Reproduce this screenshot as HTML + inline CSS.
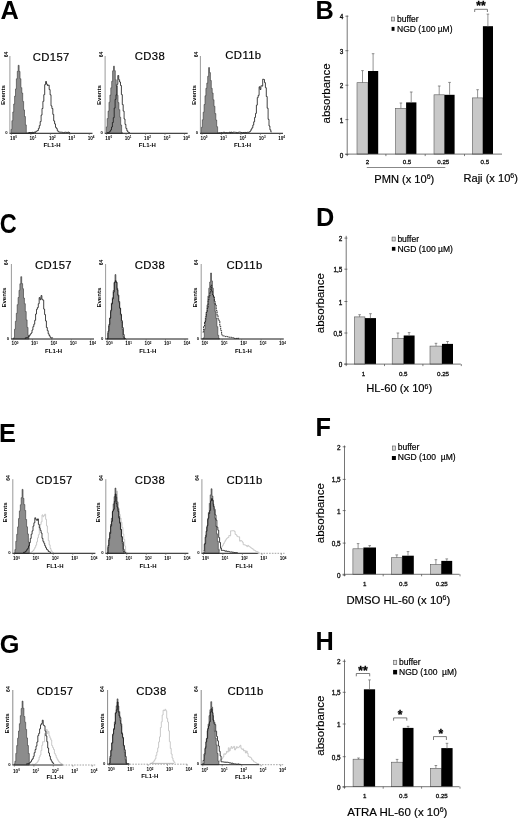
<!DOCTYPE html>
<html><head><meta charset="utf-8"><title>Figure</title>
<style>
html,body{margin:0;padding:0;background:#fff;}
body{width:520px;height:820px;overflow:hidden;font-family:"Liberation Sans",sans-serif;}
svg{display:block;}
</style></head><body>
<svg width="520" height="820" viewBox="0 0 520 820">
<defs><filter id="soft" x="0" y="0" width="100%" height="100%" filterUnits="userSpaceOnUse"><feGaussianBlur stdDeviation="0.38"/></filter></defs>
<rect width="520" height="820" fill="#ffffff"/>
<g filter="url(#soft)">
<path d="M11.0 129.4 H11.9 V120.7 H12.8 V112.0 H13.7 V104.0 H14.6 V96.1 H15.5 V88.9 H16.4 V78.8 H17.3 V71.3 H18.2 V65.3 H19.1 V71.4 H20.0 V78.8 H20.9 V87.7 H21.8 V93.0 H22.7 V101.4 H23.6 V109.9 H24.5 V116.5 H25.4 V124.9 H26.3 V133.0 H27.2 V132.9 H28.1 V133.0 H29.0 V132.5 H29.9 V133.0 H30.8 V133.0 H31.7 V133.0 H32.6 V133.0 H33.5 V133.0 V133.3 H11.0 Z" fill="#8c8c8c" stroke="#333" stroke-width="0.6" stroke-linejoin="round"/>
<path d="M28.5 132.5 H29.4 V132.6 H30.3 V132.5 H31.2 V132.5 H32.1 V132.3 H33.0 V132.7 H33.9 V132.1 H34.8 V132.6 H35.7 V131.4 H36.6 V131.0 H37.5 V130.5 H38.4 V128.4 H39.3 V125.6 H40.2 V121.6 H41.1 V115.1 H42.0 V108.5 H42.9 V101.3 H43.8 V94.7 H44.7 V84.6 H45.6 V81.5 H46.5 V84.1 H47.4 V85.5 H48.3 V85.1 H49.2 V89.6 H50.1 V94.8 H51.0 V105.9 H51.9 V108.5 H52.8 V114.4 H53.7 V120.9 H54.6 V123.9 H55.5 V127.4 H56.4 V128.6 H57.3 V130.8 H58.2 V131.8 H59.1 V132.1 H60.0 V132.2 H60.9 V132.2 H61.8 V132.3 H62.7 V132.6 H63.6 V132.7 H64.5 V132.3 H65.4 V132.2 H66.3 V132.6 H67.2 V132.4 H68.1 V132.1 H69.0 V132.7 H69.9 V133.0" fill="none" stroke="#151515" stroke-width="0.8" stroke-linejoin="round"/>
<line x1="9.9" y1="56" x2="9.9" y2="133.3" stroke="#808080" stroke-width="0.8"/>
<line x1="9.5" y1="133.3" x2="92.5" y2="133.3" stroke="#1c1c1c" stroke-width="1.0"/>
<line x1="11.5" y1="133.3" x2="11.5" y2="134.9" stroke="#555" stroke-width="0.6"/>
<text x="13.5" y="140.1" font-family="Liberation Sans, sans-serif" font-size="4.6" font-weight="bold" fill="#000" text-anchor="middle">10<tspan dy="-1.7" font-size="3">0</tspan></text>
<line x1="30.9" y1="133.3" x2="30.9" y2="134.9" stroke="#555" stroke-width="0.6"/>
<text x="32.9" y="140.1" font-family="Liberation Sans, sans-serif" font-size="4.6" font-weight="bold" fill="#000" text-anchor="middle">10<tspan dy="-1.7" font-size="3">1</tspan></text>
<line x1="50.4" y1="133.3" x2="50.4" y2="134.9" stroke="#555" stroke-width="0.6"/>
<text x="52.3" y="140.1" font-family="Liberation Sans, sans-serif" font-size="4.6" font-weight="bold" fill="#000" text-anchor="middle">10<tspan dy="-1.7" font-size="3">2</tspan></text>
<line x1="69.8" y1="133.3" x2="69.8" y2="134.9" stroke="#555" stroke-width="0.6"/>
<text x="71.7" y="140.1" font-family="Liberation Sans, sans-serif" font-size="4.6" font-weight="bold" fill="#000" text-anchor="middle">10<tspan dy="-1.7" font-size="3">3</tspan></text>
<line x1="89.3" y1="133.3" x2="89.3" y2="134.9" stroke="#555" stroke-width="0.6"/>
<text x="91.1" y="140.1" font-family="Liberation Sans, sans-serif" font-size="4.6" font-weight="bold" fill="#000" text-anchor="middle">10<tspan dy="-1.7" font-size="3">4</tspan></text>
<text x="52.1" y="146.9" font-family="Liberation Sans, sans-serif" font-size="6.0" font-weight="bold" fill="#000" text-anchor="middle">FL1-H</text>
<text transform="translate(4.8 95.0) rotate(-90)" font-family="Liberation Sans, sans-serif" font-size="6.1" font-weight="bold" fill="#000" text-anchor="middle">Events</text>
<text transform="translate(7.7 54.4) rotate(-90)" font-family="Liberation Sans, sans-serif" font-size="5" font-weight="bold" fill="#000" text-anchor="middle">64</text>
<text x="7.7" y="133.9" font-family="Liberation Sans, sans-serif" font-size="4.2" font-weight="bold" fill="#000" text-anchor="end">0</text>
<text x="51.2" y="60.5" font-family="Liberation Sans, sans-serif" font-size="11.3" fill="#000" stroke="#000" stroke-width="0.18" letter-spacing="0.35" text-anchor="middle">CD157</text>
<path d="M106.3 126.9 H107.2 V118.6 H108.1 V111.1 H109.0 V102.2 H109.9 V95.1 H110.8 V87.8 H111.7 V81.3 H112.6 V70.8 H113.5 V66.2 H114.4 V70.7 H115.3 V79.7 H116.2 V86.0 H117.1 V95.2 H118.0 V102.6 H118.9 V109.7 H119.8 V117.2 H120.7 V125.0 H121.6 V132.8 H122.5 V132.7 V133.3 H106.3 Z" fill="#8c8c8c" stroke="#333" stroke-width="0.6" stroke-linejoin="round"/>
<path d="M107.0 132.6 H107.9 V132.7 H108.8 V132.2 H109.7 V131.3 H110.6 V129.9 H111.5 V127.0 H112.4 V122.5 H113.3 V117.7 H114.2 V108.1 H115.1 V99.4 H116.0 V94.8 H116.9 V84.3 H117.8 V75.5 H118.7 V79.7 H119.6 V82.0 H120.5 V85.5 H121.4 V94.6 H122.3 V104.6 H123.2 V111.1 H124.1 V119.0 H125.0 V124.4 H125.9 V128.4 H126.8 V130.7 H127.7 V132.0 H128.6 V132.5 H129.5 V133.0" fill="none" stroke="#151515" stroke-width="0.8" stroke-linejoin="round"/>
<line x1="105.1" y1="56" x2="105.1" y2="133.3" stroke="#808080" stroke-width="0.8"/>
<line x1="104.69999999999999" y1="133.3" x2="187.7" y2="133.3" stroke="#1c1c1c" stroke-width="1.0"/>
<line x1="106.7" y1="133.3" x2="106.7" y2="134.9" stroke="#555" stroke-width="0.6"/>
<text x="108.7" y="140.1" font-family="Liberation Sans, sans-serif" font-size="4.6" font-weight="bold" fill="#000" text-anchor="middle">10<tspan dy="-1.7" font-size="3">0</tspan></text>
<line x1="126.1" y1="133.3" x2="126.1" y2="134.9" stroke="#555" stroke-width="0.6"/>
<text x="128.1" y="140.1" font-family="Liberation Sans, sans-serif" font-size="4.6" font-weight="bold" fill="#000" text-anchor="middle">10<tspan dy="-1.7" font-size="3">1</tspan></text>
<line x1="145.6" y1="133.3" x2="145.6" y2="134.9" stroke="#555" stroke-width="0.6"/>
<text x="147.5" y="140.1" font-family="Liberation Sans, sans-serif" font-size="4.6" font-weight="bold" fill="#000" text-anchor="middle">10<tspan dy="-1.7" font-size="3">2</tspan></text>
<line x1="165.0" y1="133.3" x2="165.0" y2="134.9" stroke="#555" stroke-width="0.6"/>
<text x="166.9" y="140.1" font-family="Liberation Sans, sans-serif" font-size="4.6" font-weight="bold" fill="#000" text-anchor="middle">10<tspan dy="-1.7" font-size="3">3</tspan></text>
<line x1="184.5" y1="133.3" x2="184.5" y2="134.9" stroke="#555" stroke-width="0.6"/>
<text x="186.3" y="140.1" font-family="Liberation Sans, sans-serif" font-size="4.6" font-weight="bold" fill="#000" text-anchor="middle">10<tspan dy="-1.7" font-size="3">4</tspan></text>
<text x="147.3" y="146.9" font-family="Liberation Sans, sans-serif" font-size="6.0" font-weight="bold" fill="#000" text-anchor="middle">FL1-H</text>
<text transform="translate(101.0 95.0) rotate(-90)" font-family="Liberation Sans, sans-serif" font-size="6.1" font-weight="bold" fill="#000" text-anchor="middle">Events</text>
<text transform="translate(102.9 54.4) rotate(-90)" font-family="Liberation Sans, sans-serif" font-size="5" font-weight="bold" fill="#000" text-anchor="middle">64</text>
<text x="102.9" y="133.9" font-family="Liberation Sans, sans-serif" font-size="4.2" font-weight="bold" fill="#000" text-anchor="end">0</text>
<text x="150.0" y="59.8" font-family="Liberation Sans, sans-serif" font-size="11.3" fill="#000" stroke="#000" stroke-width="0.18" letter-spacing="0.35" text-anchor="middle">CD38</text>
<path d="M201.4 127.3 H202.3 V119.8 H203.2 V112.2 H204.1 V104.5 H205.0 V95.8 H205.9 V88.3 H206.8 V83.1 H207.7 V76.3 H208.6 V67.6 H209.5 V72.6 H210.4 V80.5 H211.3 V88.3 H212.2 V93.0 H213.1 V99.8 H214.0 V106.3 H214.9 V113.6 H215.8 V120.0 H216.7 V126.7 H217.6 V133.0 H218.5 V132.7 H219.4 V132.5 H220.3 V133.0 H221.2 V132.6 H222.1 V133.0 V133.3 H201.4 Z" fill="#8c8c8c" stroke="#333" stroke-width="0.6" stroke-linejoin="round"/>
<path d="M221.3 133.0 H222.2 V133.0 H223.1 V132.3 H224.0 V132.3 H224.9 V133.0 H225.8 V132.6 H226.7 V133.0 H227.6 V132.6 H228.5 V132.7 H229.4 V132.1 H230.3 V133.0 H231.2 V132.1 H232.1 V132.7 H233.0 V132.2 H233.9 V132.2 H234.8 V132.3 H235.7 V132.4 H236.6 V133.0 H237.5 V132.6 H238.4 V132.2 H239.3 V132.1 H240.2 V132.3 H241.1 V132.5 H242.0 V133.0 H242.9 V132.5 H243.8 V133.0 H244.7 V132.4 H245.6 V133.0 H246.5 V132.5 H247.4 V132.2 H248.3 V132.4 H249.2 V131.9 H250.1 V131.0 H251.0 V129.2 H251.9 V127.8 H252.8 V125.1 H253.7 V121.8 H254.6 V117.4 H255.5 V113.4 H256.4 V105.1 H257.3 V97.6 H258.2 V95.4 H259.1 V86.8 H260.0 V89.5 H260.9 V85.8 H261.8 V86.1 H262.7 V79.2 H263.6 V79.5 H264.5 V82.6 H265.4 V87.7 H266.3 V96.5 H267.2 V108.2 H268.1 V119.3 H269.0 V126.0 H269.9 V129.8 H270.8 V131.9 H271.7 V131.9" fill="none" stroke="#151515" stroke-width="0.8" stroke-linejoin="round"/>
<line x1="200.4" y1="56" x2="200.4" y2="133.3" stroke="#808080" stroke-width="0.8"/>
<line x1="200.0" y1="133.3" x2="283.0" y2="133.3" stroke="#1c1c1c" stroke-width="1.0"/>
<line x1="202.0" y1="133.3" x2="202.0" y2="134.9" stroke="#555" stroke-width="0.6"/>
<text x="204.0" y="140.1" font-family="Liberation Sans, sans-serif" font-size="4.6" font-weight="bold" fill="#000" text-anchor="middle">10<tspan dy="-1.7" font-size="3">0</tspan></text>
<line x1="221.4" y1="133.3" x2="221.4" y2="134.9" stroke="#555" stroke-width="0.6"/>
<text x="223.4" y="140.1" font-family="Liberation Sans, sans-serif" font-size="4.6" font-weight="bold" fill="#000" text-anchor="middle">10<tspan dy="-1.7" font-size="3">1</tspan></text>
<line x1="240.9" y1="133.3" x2="240.9" y2="134.9" stroke="#555" stroke-width="0.6"/>
<text x="242.8" y="140.1" font-family="Liberation Sans, sans-serif" font-size="4.6" font-weight="bold" fill="#000" text-anchor="middle">10<tspan dy="-1.7" font-size="3">2</tspan></text>
<line x1="260.4" y1="133.3" x2="260.4" y2="134.9" stroke="#555" stroke-width="0.6"/>
<text x="262.2" y="140.1" font-family="Liberation Sans, sans-serif" font-size="4.6" font-weight="bold" fill="#000" text-anchor="middle">10<tspan dy="-1.7" font-size="3">3</tspan></text>
<line x1="279.8" y1="133.3" x2="279.8" y2="134.9" stroke="#555" stroke-width="0.6"/>
<text x="281.6" y="140.1" font-family="Liberation Sans, sans-serif" font-size="4.6" font-weight="bold" fill="#000" text-anchor="middle">10<tspan dy="-1.7" font-size="3">4</tspan></text>
<text x="242.6" y="146.9" font-family="Liberation Sans, sans-serif" font-size="6.0" font-weight="bold" fill="#000" text-anchor="middle">FL1-H</text>
<text transform="translate(196.3 95.0) rotate(-90)" font-family="Liberation Sans, sans-serif" font-size="6.1" font-weight="bold" fill="#000" text-anchor="middle">Events</text>
<text transform="translate(198.2 54.4) rotate(-90)" font-family="Liberation Sans, sans-serif" font-size="5" font-weight="bold" fill="#000" text-anchor="middle">64</text>
<text x="198.2" y="133.9" font-family="Liberation Sans, sans-serif" font-size="4.2" font-weight="bold" fill="#000" text-anchor="end">0</text>
<text x="243.4" y="59.4" font-family="Liberation Sans, sans-serif" font-size="11.3" fill="#000" stroke="#000" stroke-width="0.18" letter-spacing="0.35" text-anchor="middle">CD11b</text>
<path d="M12.7 338.7 H13.6 V337.8 H14.5 V329.2 H15.4 V321.3 H16.3 V313.3 H17.2 V304.7 H18.1 V297.5 H19.0 V290.3 H19.9 V283.8 H20.8 V276.7 H21.7 V283.6 H22.6 V288.7 H23.5 V298.0 H24.4 V303.7 H25.3 V311.5 H26.2 V319.9 H27.1 V327.4 H28.0 V335.4 H28.9 V338.7 V339.0 H12.7 Z" fill="#8c8c8c" stroke="#333" stroke-width="0.6" stroke-linejoin="round"/>
<path d="M24.8 338.3 H25.7 V337.7 H26.6 V337.5 H27.5 V337.3 H28.4 V336.5 H29.3 V335.4 H30.2 V334.1 H31.1 V333.0 H32.0 V330.0 H32.9 V326.7 H33.8 V324.2 H34.7 V320.3 H35.6 V314.0 H36.5 V309.3 H37.4 V307.5 H38.3 V303.7 H39.2 V297.6 H40.1 V299.7 H41.0 V295.6 H41.9 V299.3 H42.8 V300.2 H43.7 V309.1 H44.6 V314.6 H45.5 V320.9 H46.4 V327.5 H47.3 V330.7 H48.2 V333.8 H49.1 V335.6 H50.0 V337.2 H50.9 V338.1 H51.8 V337.8 H52.7 V338.1" fill="none" stroke="#151515" stroke-width="0.8" stroke-linejoin="round"/>
<line x1="11.4" y1="264" x2="11.4" y2="339" stroke="#808080" stroke-width="0.8"/>
<line x1="11.0" y1="339" x2="94.0" y2="339" stroke="#1c1c1c" stroke-width="1.0"/>
<line x1="13.0" y1="339" x2="13.0" y2="340.6" stroke="#555" stroke-width="0.6"/>
<text x="15.0" y="345.3" font-family="Liberation Sans, sans-serif" font-size="4.6" font-weight="bold" fill="#000" text-anchor="middle">10<tspan dy="-1.7" font-size="3">0</tspan></text>
<line x1="32.5" y1="339" x2="32.5" y2="340.6" stroke="#555" stroke-width="0.6"/>
<text x="34.4" y="345.3" font-family="Liberation Sans, sans-serif" font-size="4.6" font-weight="bold" fill="#000" text-anchor="middle">10<tspan dy="-1.7" font-size="3">1</tspan></text>
<line x1="51.9" y1="339" x2="51.9" y2="340.6" stroke="#555" stroke-width="0.6"/>
<text x="53.8" y="345.3" font-family="Liberation Sans, sans-serif" font-size="4.6" font-weight="bold" fill="#000" text-anchor="middle">10<tspan dy="-1.7" font-size="3">2</tspan></text>
<line x1="71.3" y1="339" x2="71.3" y2="340.6" stroke="#555" stroke-width="0.6"/>
<text x="73.2" y="345.3" font-family="Liberation Sans, sans-serif" font-size="4.6" font-weight="bold" fill="#000" text-anchor="middle">10<tspan dy="-1.7" font-size="3">3</tspan></text>
<line x1="90.8" y1="339" x2="90.8" y2="340.6" stroke="#555" stroke-width="0.6"/>
<text x="92.6" y="345.3" font-family="Liberation Sans, sans-serif" font-size="4.6" font-weight="bold" fill="#000" text-anchor="middle">10<tspan dy="-1.7" font-size="3">4</tspan></text>
<text x="53.6" y="352.9" font-family="Liberation Sans, sans-serif" font-size="6.0" font-weight="bold" fill="#000" text-anchor="middle">FL1-H</text>
<text transform="translate(5.8 297.6) rotate(-90)" font-family="Liberation Sans, sans-serif" font-size="6.1" font-weight="bold" fill="#000" text-anchor="middle">Events</text>
<text transform="translate(8.4 262.5) rotate(-90)" font-family="Liberation Sans, sans-serif" font-size="5" font-weight="bold" fill="#000" text-anchor="middle">64</text>
<text x="9.2" y="339.6" font-family="Liberation Sans, sans-serif" font-size="4.2" font-weight="bold" fill="#000" text-anchor="end">0</text>
<text x="53.5" y="268.8" font-family="Liberation Sans, sans-serif" font-size="11.3" fill="#000" stroke="#000" stroke-width="0.18" letter-spacing="0.35" text-anchor="middle">CD157</text>
<path d="M106.9 338.5 H107.8 V333.2 H108.7 V326.0 H109.6 V318.1 H110.5 V311.7 H111.4 V303.0 H112.3 V297.7 H113.2 V290.5 H114.1 V282.7 H115.0 V274.6 H115.9 V282.0 H116.8 V288.2 H117.7 V295.8 H118.6 V302.7 H119.5 V308.5 H120.4 V315.0 H121.3 V322.2 H122.2 V329.5 H123.1 V336.7 H124.0 V337.9 H124.9 V338.7 V339.0 H106.9 Z" fill="#8c8c8c" stroke="#333" stroke-width="0.6" stroke-linejoin="round"/>
<path d="M107.1 338.7 H108.0 V331.2 H108.9 V324.5 H109.8 V318.1 H110.7 V310.2 H111.6 V303.9 H112.5 V298.8 H113.4 V292.1 H114.3 V282.4 H115.2 V280.7 H116.1 V282.3 H117.0 V289.9 H117.9 V295.1 H118.8 V301.6 H119.7 V308.0 H120.6 V314.2 H121.5 V320.7 H122.4 V327.6 H123.3 V334.6 H124.2 V338.7 H125.1 V338.7 H126.0 V338.7" fill="none" stroke="#151515" stroke-width="0.8" stroke-linejoin="round"/>
<line x1="105.6" y1="264" x2="105.6" y2="339" stroke="#808080" stroke-width="0.8"/>
<line x1="105.19999999999999" y1="339" x2="188.2" y2="339" stroke="#1c1c1c" stroke-width="1.0"/>
<line x1="107.2" y1="339" x2="107.2" y2="340.6" stroke="#555" stroke-width="0.6"/>
<text x="109.2" y="345.3" font-family="Liberation Sans, sans-serif" font-size="4.6" font-weight="bold" fill="#000" text-anchor="middle">10<tspan dy="-1.7" font-size="3">0</tspan></text>
<line x1="126.6" y1="339" x2="126.6" y2="340.6" stroke="#555" stroke-width="0.6"/>
<text x="128.6" y="345.3" font-family="Liberation Sans, sans-serif" font-size="4.6" font-weight="bold" fill="#000" text-anchor="middle">10<tspan dy="-1.7" font-size="3">1</tspan></text>
<line x1="146.1" y1="339" x2="146.1" y2="340.6" stroke="#555" stroke-width="0.6"/>
<text x="148.0" y="345.3" font-family="Liberation Sans, sans-serif" font-size="4.6" font-weight="bold" fill="#000" text-anchor="middle">10<tspan dy="-1.7" font-size="3">2</tspan></text>
<line x1="165.5" y1="339" x2="165.5" y2="340.6" stroke="#555" stroke-width="0.6"/>
<text x="167.4" y="345.3" font-family="Liberation Sans, sans-serif" font-size="4.6" font-weight="bold" fill="#000" text-anchor="middle">10<tspan dy="-1.7" font-size="3">3</tspan></text>
<line x1="185.0" y1="339" x2="185.0" y2="340.6" stroke="#555" stroke-width="0.6"/>
<text x="186.8" y="345.3" font-family="Liberation Sans, sans-serif" font-size="4.6" font-weight="bold" fill="#000" text-anchor="middle">10<tspan dy="-1.7" font-size="3">4</tspan></text>
<text x="147.8" y="352.9" font-family="Liberation Sans, sans-serif" font-size="6.0" font-weight="bold" fill="#000" text-anchor="middle">FL1-H</text>
<text transform="translate(101.3 297.6) rotate(-90)" font-family="Liberation Sans, sans-serif" font-size="6.1" font-weight="bold" fill="#000" text-anchor="middle">Events</text>
<text transform="translate(102.6 262.5) rotate(-90)" font-family="Liberation Sans, sans-serif" font-size="5" font-weight="bold" fill="#000" text-anchor="middle">64</text>
<text x="103.4" y="339.6" font-family="Liberation Sans, sans-serif" font-size="4.2" font-weight="bold" fill="#000" text-anchor="end">0</text>
<text x="150.0" y="268.8" font-family="Liberation Sans, sans-serif" font-size="11.3" fill="#000" stroke="#000" stroke-width="0.18" letter-spacing="0.35" text-anchor="middle">CD38</text>
<path d="M202.5 338.7 H203.4 V337.8 H204.3 V329.1 H205.2 V320.4 H206.1 V312.4 H207.0 V304.9 H207.9 V296.1 H208.8 V288.2 H209.7 V282.0 H210.6 V273.0 H211.5 V280.9 H212.4 V288.2 H213.3 V296.5 H214.2 V303.5 H215.1 V311.7 H216.0 V318.5 H216.9 V326.7 H217.8 V335.3 H218.7 V338.7 H219.6 V338.7 V339.0 H202.5 Z" fill="#8c8c8c" stroke="#333" stroke-width="0.6" stroke-linejoin="round"/>
<path d="M202.7 332.1 H203.6 V326.5 H204.5 V322.1 H205.4 V316.8 H206.3 V312.2 H207.2 V308.2 H208.1 V299.8 H209.0 V296.1 H209.9 V292.4 H210.8 V285.2 H211.7 V291.6 H212.6 V295.0 H213.5 V297.4 H214.4 V301.6 H215.3 V305.1 H216.2 V310.4 H217.1 V315.4 H218.0 V319.2 H218.9 V320.7 H219.8 V326.3 H220.7 V330.6 H221.6 V334.9 H222.5 V335.9 H223.4 V335.9 H224.3 V336.3 H225.2 V336.6 H226.1 V336.3 H227.0 V336.7 H227.9 V336.9 H228.8 V337.2 H229.7 V337.4 H230.6 V337.2 H231.5 V337.7 H232.4 V337.7 H233.3 V338.0 H234.2 V338.3 H235.1 V338.7 H236.0 V338.4 H236.9 V338.4 H237.8 V338.7 H238.7 V337.8" fill="none" stroke="#1a1a1a" stroke-width="0.9" stroke-dasharray="1.8 0.7" stroke-linejoin="round"/>
<line x1="201.2" y1="264" x2="201.2" y2="339" stroke="#808080" stroke-width="0.8"/>
<line x1="200.79999999999998" y1="339" x2="283.79999999999995" y2="339" stroke="#1c1c1c" stroke-width="1.0"/>
<line x1="202.8" y1="339" x2="202.8" y2="340.6" stroke="#555" stroke-width="0.6"/>
<text x="204.8" y="345.3" font-family="Liberation Sans, sans-serif" font-size="4.6" font-weight="bold" fill="#000" text-anchor="middle">10<tspan dy="-1.7" font-size="3">0</tspan></text>
<line x1="222.2" y1="339" x2="222.2" y2="340.6" stroke="#555" stroke-width="0.6"/>
<text x="224.2" y="345.3" font-family="Liberation Sans, sans-serif" font-size="4.6" font-weight="bold" fill="#000" text-anchor="middle">10<tspan dy="-1.7" font-size="3">1</tspan></text>
<line x1="241.7" y1="339" x2="241.7" y2="340.6" stroke="#555" stroke-width="0.6"/>
<text x="243.6" y="345.3" font-family="Liberation Sans, sans-serif" font-size="4.6" font-weight="bold" fill="#000" text-anchor="middle">10<tspan dy="-1.7" font-size="3">2</tspan></text>
<line x1="261.1" y1="339" x2="261.1" y2="340.6" stroke="#555" stroke-width="0.6"/>
<text x="263.0" y="345.3" font-family="Liberation Sans, sans-serif" font-size="4.6" font-weight="bold" fill="#000" text-anchor="middle">10<tspan dy="-1.7" font-size="3">3</tspan></text>
<line x1="280.6" y1="339" x2="280.6" y2="340.6" stroke="#555" stroke-width="0.6"/>
<text x="282.4" y="345.3" font-family="Liberation Sans, sans-serif" font-size="4.6" font-weight="bold" fill="#000" text-anchor="middle">10<tspan dy="-1.7" font-size="3">4</tspan></text>
<text x="243.4" y="352.9" font-family="Liberation Sans, sans-serif" font-size="6.0" font-weight="bold" fill="#000" text-anchor="middle">FL1-H</text>
<text transform="translate(196.5 297.6) rotate(-90)" font-family="Liberation Sans, sans-serif" font-size="6.1" font-weight="bold" fill="#000" text-anchor="middle">Events</text>
<text transform="translate(198.2 262.5) rotate(-90)" font-family="Liberation Sans, sans-serif" font-size="5" font-weight="bold" fill="#000" text-anchor="middle">64</text>
<text x="199.0" y="339.6" font-family="Liberation Sans, sans-serif" font-size="4.2" font-weight="bold" fill="#000" text-anchor="end">0</text>
<text x="244.5" y="268.8" font-family="Liberation Sans, sans-serif" font-size="11.3" fill="#000" stroke="#000" stroke-width="0.18" letter-spacing="0.35" text-anchor="middle">CD11b</text>
<path d="M30.3 552.4 H31.2 V552.1 H32.1 V551.4 H33.0 V550.5 H33.9 V549.0 H34.8 V547.3 H35.7 V545.2 H36.6 V541.9 H37.5 V537.8 H38.4 V534.7 H39.3 V527.2 H40.2 V524.5 H41.1 V521.9 H42.0 V514.9 H42.9 V516.7 H43.8 V515.5 H44.7 V514.2 H45.6 V519.3 H46.5 V525.9 H47.4 V532.8 H48.3 V540.6 H49.2 V544.9 H50.1 V548.5 H51.0 V550.7 H51.9 V552.0 H52.8 V552.6 H53.7 V553.0" fill="none" stroke="#c0c0c0" stroke-width="0.85" stroke-linejoin="round"/>
<path d="M14.0 553.0 H14.9 V549.6 H15.8 V541.3 H16.7 V534.3 H17.6 V526.9 H18.5 V518.6 H19.4 V510.9 H20.3 V504.8 H21.2 V497.7 H22.1 V489.4 H23.0 V498.3 H23.9 V504.6 H24.8 V510.5 H25.7 V519.5 H26.6 V526.8 H27.5 V533.9 H28.4 V542.0 H29.3 V549.7 V553.3 H14.0 Z" fill="#8c8c8c" stroke="#333" stroke-width="0.6" stroke-linejoin="round"/>
<path d="M23.1 552.4 H24.0 V552.3 H24.9 V551.8 H25.8 V550.9 H26.7 V549.6 H27.6 V548.3 H28.5 V545.9 H29.4 V542.7 H30.3 V538.4 H31.2 V534.2 H32.1 V530.9 H33.0 V526.1 H33.9 V522.8 H34.8 V517.8 H35.7 V519.4 H36.6 V520.4 H37.5 V518.9 H38.4 V524.4 H39.3 V527.8 H40.2 V530.3 H41.1 V533.0 H42.0 V538.3 H42.9 V541.3 H43.8 V543.2 H44.7 V545.7 H45.6 V547.7 H46.5 V549.4 H47.4 V550.1 H48.3 V551.5 H49.2 V551.9 H50.1 V552.3 H51.0 V552.5" fill="none" stroke="#151515" stroke-width="0.8" stroke-linejoin="round"/>
<line x1="12.8" y1="479.2" x2="12.8" y2="553.3" stroke="#808080" stroke-width="0.8"/>
<line x1="12.4" y1="553.3" x2="95.39999999999999" y2="553.3" stroke="#1c1c1c" stroke-width="1.0"/>
<line x1="14.4" y1="553.3" x2="14.4" y2="554.9" stroke="#555" stroke-width="0.6"/>
<text x="16.4" y="560.3" font-family="Liberation Sans, sans-serif" font-size="4.6" font-weight="bold" fill="#000" text-anchor="middle">10<tspan dy="-1.7" font-size="3">0</tspan></text>
<line x1="33.9" y1="553.3" x2="33.9" y2="554.9" stroke="#555" stroke-width="0.6"/>
<text x="35.8" y="560.3" font-family="Liberation Sans, sans-serif" font-size="4.6" font-weight="bold" fill="#000" text-anchor="middle">10<tspan dy="-1.7" font-size="3">1</tspan></text>
<line x1="53.3" y1="553.3" x2="53.3" y2="554.9" stroke="#555" stroke-width="0.6"/>
<text x="55.2" y="560.3" font-family="Liberation Sans, sans-serif" font-size="4.6" font-weight="bold" fill="#000" text-anchor="middle">10<tspan dy="-1.7" font-size="3">2</tspan></text>
<line x1="72.8" y1="553.3" x2="72.8" y2="554.9" stroke="#555" stroke-width="0.6"/>
<text x="74.6" y="560.3" font-family="Liberation Sans, sans-serif" font-size="4.6" font-weight="bold" fill="#000" text-anchor="middle">10<tspan dy="-1.7" font-size="3">3</tspan></text>
<line x1="92.2" y1="553.3" x2="92.2" y2="554.9" stroke="#555" stroke-width="0.6"/>
<text x="94.0" y="560.3" font-family="Liberation Sans, sans-serif" font-size="4.6" font-weight="bold" fill="#000" text-anchor="middle">10<tspan dy="-1.7" font-size="3">4</tspan></text>
<text x="55.0" y="567.6" font-family="Liberation Sans, sans-serif" font-size="6.0" font-weight="bold" fill="#000" text-anchor="middle">FL1-H</text>
<text transform="translate(6.8 512.4) rotate(-90)" font-family="Liberation Sans, sans-serif" font-size="6.1" font-weight="bold" fill="#000" text-anchor="middle">Events</text>
<text transform="translate(10.1 478.0) rotate(-90)" font-family="Liberation Sans, sans-serif" font-size="5" font-weight="bold" fill="#000" text-anchor="middle">64</text>
<text x="10.6" y="553.9" font-family="Liberation Sans, sans-serif" font-size="4.2" font-weight="bold" fill="#000" text-anchor="end">0</text>
<text x="54.2" y="483.8" font-family="Liberation Sans, sans-serif" font-size="11.3" fill="#000" stroke="#000" stroke-width="0.18" letter-spacing="0.35" text-anchor="middle">CD157</text>
<path d="M107.6 552.1 H108.5 V549.3 H109.4 V543.0 H110.3 V535.7 H111.2 V529.1 H112.1 V526.2 H113.0 V516.2 H113.9 V514.5 H114.8 V503.8 H115.7 V501.9 H116.6 V491.1 H117.5 V502.2 H118.4 V508.6 H119.3 V514.4 H120.2 V518.1 H121.1 V522.3 H122.0 V527.5 H122.9 V534.1 H123.8 V539.5 H124.7 V546.1 H125.6 V552.2 H126.5 V553.0 H127.4 V553.0 H128.3 V553.0" fill="none" stroke="#c0c0c0" stroke-width="0.85" stroke-linejoin="round"/>
<path d="M106.9 553.0 H107.8 V547.5 H108.7 V540.1 H109.6 V532.1 H110.5 V524.5 H111.4 V518.3 H112.3 V511.9 H113.2 V503.9 H114.1 V496.7 H115.0 V488.1 H115.9 V497.1 H116.8 V501.8 H117.7 V508.8 H118.6 V516.3 H119.5 V522.1 H120.4 V529.2 H121.3 V536.7 H122.2 V543.6 H123.1 V551.1 H124.0 V553.0 V553.3 H106.9 Z" fill="#8c8c8c" stroke="#333" stroke-width="0.6" stroke-linejoin="round"/>
<path d="M107.1 553.0 H108.0 V545.5 H108.9 V538.5 H109.8 V533.4 H110.7 V526.1 H111.6 V521.3 H112.5 V511.0 H113.4 V509.3 H114.3 V501.4 H115.2 V494.1 H116.1 V503.6 H117.0 V507.1 H117.9 V511.4 H118.8 V518.1 H119.7 V523.3 H120.6 V529.5 H121.5 V536.7 H122.4 V541.9 H123.3 V549.3 H124.2 V552.1 H125.1 V552.4 H126.0 V552.3" fill="none" stroke="#151515" stroke-width="0.8" stroke-linejoin="round"/>
<line x1="105.8" y1="479.2" x2="105.8" y2="553.3" stroke="#808080" stroke-width="0.8"/>
<line x1="105.39999999999999" y1="553.3" x2="188.39999999999998" y2="553.3" stroke="#1c1c1c" stroke-width="1.0"/>
<line x1="107.4" y1="553.3" x2="107.4" y2="554.9" stroke="#555" stroke-width="0.6"/>
<text x="109.4" y="560.3" font-family="Liberation Sans, sans-serif" font-size="4.6" font-weight="bold" fill="#000" text-anchor="middle">10<tspan dy="-1.7" font-size="3">0</tspan></text>
<line x1="126.8" y1="553.3" x2="126.8" y2="554.9" stroke="#555" stroke-width="0.6"/>
<text x="128.8" y="560.3" font-family="Liberation Sans, sans-serif" font-size="4.6" font-weight="bold" fill="#000" text-anchor="middle">10<tspan dy="-1.7" font-size="3">1</tspan></text>
<line x1="146.3" y1="553.3" x2="146.3" y2="554.9" stroke="#555" stroke-width="0.6"/>
<text x="148.2" y="560.3" font-family="Liberation Sans, sans-serif" font-size="4.6" font-weight="bold" fill="#000" text-anchor="middle">10<tspan dy="-1.7" font-size="3">2</tspan></text>
<line x1="165.8" y1="553.3" x2="165.8" y2="554.9" stroke="#555" stroke-width="0.6"/>
<text x="167.6" y="560.3" font-family="Liberation Sans, sans-serif" font-size="4.6" font-weight="bold" fill="#000" text-anchor="middle">10<tspan dy="-1.7" font-size="3">3</tspan></text>
<line x1="185.2" y1="553.3" x2="185.2" y2="554.9" stroke="#555" stroke-width="0.6"/>
<text x="187.0" y="560.3" font-family="Liberation Sans, sans-serif" font-size="4.6" font-weight="bold" fill="#000" text-anchor="middle">10<tspan dy="-1.7" font-size="3">4</tspan></text>
<text x="148.0" y="567.6" font-family="Liberation Sans, sans-serif" font-size="6.0" font-weight="bold" fill="#000" text-anchor="middle">FL1-H</text>
<text transform="translate(99.8 512.4) rotate(-90)" font-family="Liberation Sans, sans-serif" font-size="6.1" font-weight="bold" fill="#000" text-anchor="middle">Events</text>
<text transform="translate(103.1 478.0) rotate(-90)" font-family="Liberation Sans, sans-serif" font-size="5" font-weight="bold" fill="#000" text-anchor="middle">64</text>
<text x="103.6" y="553.9" font-family="Liberation Sans, sans-serif" font-size="4.2" font-weight="bold" fill="#000" text-anchor="end">0</text>
<text x="150.0" y="483.8" font-family="Liberation Sans, sans-serif" font-size="11.3" fill="#000" stroke="#000" stroke-width="0.18" letter-spacing="0.35" text-anchor="middle">CD38</text>
<path d="M216.2 551.7 H217.1 V551.1 H218.0 V550.5 H218.9 V549.9 H219.8 V548.7 H220.7 V548.3 H221.6 V546.6 H222.5 V545.3 H223.4 V543.5 H224.3 V541.9 H225.2 V540.3 H226.1 V538.9 H227.0 V537.9 H227.9 V537.6 H228.8 V535.5 H229.7 V535.9 H230.6 V530.8 H231.5 V530.9 H232.4 V530.7 H233.3 V530.7 H234.2 V531.3 H235.1 V534.3 H236.0 V534.9 H236.9 V536.3 H237.8 V536.8 H238.7 V536.8 H239.6 V541.2 H240.5 V540.5 H241.4 V541.0 H242.3 V542.2 H243.2 V544.7 H244.1 V544.8 H245.0 V545.1 H245.9 V545.5 H246.8 V546.6 H247.7 V545.4 H248.6 V546.3 H249.5 V546.8 H250.4 V547.6 H251.3 V548.3 H252.2 V548.6 H253.1 V549.9 H254.0 V550.1 H254.9 V550.8 H255.8 V551.4 H256.7 V551.6 H257.6 V552.0 H258.5 V552.4 H259.4 V552.6" fill="none" stroke="#c0c0c0" stroke-width="0.85" stroke-linejoin="round"/>
<path d="M203.0 552.9 H203.9 V552.1 H204.8 V543.3 H205.7 V535.0 H206.6 V527.2 H207.5 V519.5 H208.4 V512.5 H209.3 V503.4 H210.2 V494.9 H211.1 V488.8 H212.0 V496.1 H212.9 V504.1 H213.8 V510.3 H214.7 V518.1 H215.6 V526.3 H216.5 V533.8 H217.4 V541.3 H218.3 V549.7 H219.2 V553.0 V553.3 H203.0 Z" fill="#8c8c8c" stroke="#333" stroke-width="0.6" stroke-linejoin="round"/>
<path d="M203.4 550.9 H204.3 V544.2 H205.2 V537.2 H206.1 V531.3 H207.0 V525.7 H207.9 V518.2 H208.8 V513.5 H209.7 V510.4 H210.6 V500.8 H211.5 V498.6 H212.4 V500.4 H213.3 V506.4 H214.2 V509.2 H215.1 V514.9 H216.0 V520.1 H216.9 V527.1 H217.8 V530.2 H218.7 V537.6 H219.6 V542.5 H220.5 V548.1 H221.4 V550.5 H222.3 V550.3 H223.2 V550.4 H224.1 V550.7 H225.0 V551.2 H225.9 V550.9 H226.8 V551.6 H227.7 V551.3 H228.6 V551.6 H229.5 V552.0 H230.4 V552.1 H231.3 V551.9 H232.2 V552.3 H233.1 V552.3 H234.0 V552.5 H234.9 V552.6 H235.8 V552.5 H236.7 V552.5 H237.6 V552.6" fill="none" stroke="#151515" stroke-width="0.8" stroke-linejoin="round"/>
<line x1="201.9" y1="479.2" x2="201.9" y2="553.3" stroke="#808080" stroke-width="0.8"/>
<line x1="201.5" y1="553.3" x2="257.9" y2="553.3" stroke="#1c1c1c" stroke-width="1.0"/>
<line x1="257.9" y1="553.3" x2="284.5" y2="553.3" stroke="#9a9a9a" stroke-width="0.9" stroke-dasharray="1.6 1.2"/>
<line x1="203.5" y1="553.3" x2="203.5" y2="554.9" stroke="#555" stroke-width="0.6"/>
<text x="205.5" y="560.3" font-family="Liberation Sans, sans-serif" font-size="4.6" font-weight="bold" fill="#000" text-anchor="middle">10<tspan dy="-1.7" font-size="3">0</tspan></text>
<line x1="222.9" y1="553.3" x2="222.9" y2="554.9" stroke="#555" stroke-width="0.6"/>
<text x="224.9" y="560.3" font-family="Liberation Sans, sans-serif" font-size="4.6" font-weight="bold" fill="#000" text-anchor="middle">10<tspan dy="-1.7" font-size="3">1</tspan></text>
<line x1="242.4" y1="553.3" x2="242.4" y2="554.9" stroke="#555" stroke-width="0.6"/>
<text x="244.3" y="560.3" font-family="Liberation Sans, sans-serif" font-size="4.6" font-weight="bold" fill="#000" text-anchor="middle">10<tspan dy="-1.7" font-size="3">2</tspan></text>
<line x1="261.9" y1="553.3" x2="261.9" y2="554.9" stroke="#555" stroke-width="0.6"/>
<text x="263.7" y="560.3" font-family="Liberation Sans, sans-serif" font-size="4.6" font-weight="bold" fill="#000" text-anchor="middle">10<tspan dy="-1.7" font-size="3">3</tspan></text>
<line x1="281.3" y1="553.3" x2="281.3" y2="554.9" stroke="#555" stroke-width="0.6"/>
<text x="283.1" y="560.3" font-family="Liberation Sans, sans-serif" font-size="4.6" font-weight="bold" fill="#000" text-anchor="middle">10<tspan dy="-1.7" font-size="3">4</tspan></text>
<text x="244.1" y="567.6" font-family="Liberation Sans, sans-serif" font-size="6.0" font-weight="bold" fill="#000" text-anchor="middle">FL1-H</text>
<text transform="translate(195.9 512.4) rotate(-90)" font-family="Liberation Sans, sans-serif" font-size="6.1" font-weight="bold" fill="#000" text-anchor="middle">Events</text>
<text transform="translate(199.2 478.0) rotate(-90)" font-family="Liberation Sans, sans-serif" font-size="5" font-weight="bold" fill="#000" text-anchor="middle">64</text>
<text x="199.7" y="553.9" font-family="Liberation Sans, sans-serif" font-size="4.2" font-weight="bold" fill="#000" text-anchor="end">0</text>
<text x="244.5" y="483.8" font-family="Liberation Sans, sans-serif" font-size="11.3" fill="#000" stroke="#000" stroke-width="0.18" letter-spacing="0.35" text-anchor="middle">CD11b</text>
<path d="M31.9 764.1 H32.8 V764.2 H33.7 V764.4 H34.6 V764.1 H35.5 V763.4 H36.4 V762.8 H37.3 V761.7 H38.2 V760.1 H39.1 V757.1 H40.0 V755.0 H40.9 V750.5 H41.8 V745.3 H42.7 V741.7 H43.6 V741.8 H44.5 V733.6 H45.4 V735.7 H46.3 V729.5 H47.2 V733.5 H48.1 V731.4 H49.0 V735.8 H49.9 V738.0 H50.8 V740.0 H51.7 V745.6 H52.6 V747.6 H53.5 V749.5 H54.4 V753.5 H55.3 V755.2 H56.2 V757.7 H57.1 V759.3 H58.0 V760.9 H58.9 V762.1 H59.8 V762.9 H60.7 V763.5 H61.6 V764.0 H62.5 V764.2" fill="none" stroke="#c0c0c0" stroke-width="0.85" stroke-linejoin="round"/>
<path d="M14.0 763.9 H14.9 V761.3 H15.8 V753.4 H16.7 V745.6 H17.6 V738.2 H18.5 V731.0 H19.4 V723.7 H20.3 V715.7 H21.2 V708.6 H22.1 V701.1 H23.0 V708.2 H23.9 V716.5 H24.8 V722.2 H25.7 V729.4 H26.6 V737.9 H27.5 V745.5 H28.4 V753.5 H29.3 V761.3 V765.0 H14.0 Z" fill="#8c8c8c" stroke="#333" stroke-width="0.6" stroke-linejoin="round"/>
<path d="M26.1 764.1 H27.0 V763.8 H27.9 V763.8 H28.8 V763.2 H29.7 V762.7 H30.6 V761.6 H31.5 V759.9 H32.4 V758.7 H33.3 V756.3 H34.2 V752.7 H35.1 V749.6 H36.0 V746.1 H36.9 V742.0 H37.8 V735.7 H38.7 V733.4 H39.6 V728.8 H40.5 V724.8 H41.4 V723.5 H42.3 V720.2 H43.2 V725.1 H44.1 V725.9 H45.0 V731.1 H45.9 V736.0 H46.8 V741.7 H47.7 V748.0 H48.6 V753.0 H49.5 V756.2 H50.4 V759.4 H51.3 V761.1 H52.2 V762.6 H53.1 V763.4 H54.0 V763.6" fill="none" stroke="#151515" stroke-width="0.8" stroke-linejoin="round"/>
<line x1="12.8" y1="690" x2="12.8" y2="765" stroke="#6c6c6c" stroke-width="0.8"/>
<line x1="12.4" y1="765" x2="62.8" y2="765" stroke="#2a2a2a" stroke-width="1.0"/>
<line x1="62.8" y1="765" x2="95.39999999999999" y2="765" stroke="#9a9a9a" stroke-width="0.9" stroke-dasharray="1.6 1.2"/>
<line x1="14.4" y1="765" x2="14.4" y2="766.6" stroke="#555" stroke-width="0.6"/>
<text x="16.4" y="772.8" font-family="Liberation Sans, sans-serif" font-size="4.6" font-weight="bold" fill="#000" text-anchor="middle">10<tspan dy="-1.7" font-size="3">0</tspan></text>
<line x1="33.9" y1="765" x2="33.9" y2="766.6" stroke="#555" stroke-width="0.6"/>
<text x="35.8" y="772.8" font-family="Liberation Sans, sans-serif" font-size="4.6" font-weight="bold" fill="#000" text-anchor="middle">10<tspan dy="-1.7" font-size="3">1</tspan></text>
<line x1="53.3" y1="765" x2="53.3" y2="766.6" stroke="#555" stroke-width="0.6"/>
<text x="55.2" y="772.8" font-family="Liberation Sans, sans-serif" font-size="4.6" font-weight="bold" fill="#000" text-anchor="middle">10<tspan dy="-1.7" font-size="3">2</tspan></text>
<line x1="72.8" y1="765" x2="72.8" y2="766.6" stroke="#555" stroke-width="0.6"/>
<text x="74.6" y="772.8" font-family="Liberation Sans, sans-serif" font-size="4.6" font-weight="bold" fill="#000" text-anchor="middle">10<tspan dy="-1.7" font-size="3">3</tspan></text>
<line x1="92.2" y1="765" x2="92.2" y2="766.6" stroke="#555" stroke-width="0.6"/>
<text x="94.0" y="772.8" font-family="Liberation Sans, sans-serif" font-size="4.6" font-weight="bold" fill="#000" text-anchor="middle">10<tspan dy="-1.7" font-size="3">4</tspan></text>
<text x="55.0" y="778.8" font-family="Liberation Sans, sans-serif" font-size="6.0" font-weight="bold" fill="#000" text-anchor="middle">FL1-H</text>
<text transform="translate(8.6 723.4) rotate(-90)" font-family="Liberation Sans, sans-serif" font-size="6.1" font-weight="bold" fill="#000" text-anchor="middle">Events</text>
<text transform="translate(9.5 689.1) rotate(-90)" font-family="Liberation Sans, sans-serif" font-size="5" font-weight="bold" fill="#000" text-anchor="middle">64</text>
<text x="10.6" y="765.6" font-family="Liberation Sans, sans-serif" font-size="4.2" font-weight="bold" fill="#000" text-anchor="end">0</text>
<text x="55.0" y="694.5" font-family="Liberation Sans, sans-serif" font-size="11.3" fill="#000" stroke="#000" stroke-width="0.18" letter-spacing="0.35" text-anchor="middle">CD157</text>
<path d="M150.5 763.5 H151.4 V763.1 H152.3 V762.6 H153.2 V761.7 H154.1 V760.4 H155.0 V758.8 H155.9 V755.3 H156.8 V752.0 H157.7 V747.9 H158.6 V741.9 H159.5 V736.8 H160.4 V727.5 H161.3 V721.8 H162.2 V715.0 H163.1 V710.2 H164.0 V710.6 H164.9 V709.3 H165.8 V710.8 H166.7 V718.3 H167.6 V722.0 H168.5 V730.8 H169.4 V741.7 H170.3 V748.4 H171.2 V754.0 H172.1 V758.0 H173.0 V760.7 H173.9 V762.1 H174.8 V763.1" fill="none" stroke="#c0c0c0" stroke-width="0.85" stroke-linejoin="round"/>
<path d="M109.0 763.5 H109.9 V758.3 H110.8 V750.8 H111.7 V743.1 H112.6 V735.3 H113.5 V728.6 H114.4 V721.9 H115.3 V712.8 H116.2 V705.9 H117.1 V698.9 H118.0 V706.1 H118.9 V711.6 H119.8 V720.3 H120.7 V725.8 H121.6 V732.8 H122.5 V738.3 H123.4 V746.2 H124.3 V752.3 H125.2 V759.7 H126.1 V763.8 H127.0 V763.9 V764.2 H109.0 Z" fill="#8c8c8c" stroke="#333" stroke-width="0.6" stroke-linejoin="round"/>
<path d="M109.1 763.3 H110.0 V756.2 H110.9 V750.2 H111.8 V742.8 H112.7 V734.0 H113.6 V729.3 H114.5 V724.1 H115.4 V713.1 H116.3 V709.8 H117.2 V702.0 H118.1 V712.0 H119.0 V715.8 H119.9 V717.7 H120.8 V723.9 H121.7 V733.9 H122.6 V737.4 H123.5 V745.4 H124.4 V749.8 H125.3 V756.4 H126.2 V763.1 H127.1 V763.9 H128.0 V763.7 H128.9 V763.9" fill="none" stroke="#151515" stroke-width="0.8" stroke-linejoin="round"/>
<line x1="107.6" y1="690" x2="107.6" y2="764.2" stroke="#6c6c6c" stroke-width="0.8"/>
<line x1="107.19999999999999" y1="764.2" x2="129.6" y2="764.2" stroke="#2a2a2a" stroke-width="1.0"/>
<line x1="129.6" y1="764.2" x2="187.6" y2="764.2" stroke="#9a9a9a" stroke-width="0.9" stroke-dasharray="1.6 1.2"/>
<line x1="109.2" y1="764.2" x2="109.2" y2="765.8000000000001" stroke="#555" stroke-width="0.6"/>
<text x="111.2" y="771.2" font-family="Liberation Sans, sans-serif" font-size="4.6" font-weight="bold" fill="#000" text-anchor="middle">10<tspan dy="-1.7" font-size="3">0</tspan></text>
<line x1="128.6" y1="764.2" x2="128.6" y2="765.8000000000001" stroke="#555" stroke-width="0.6"/>
<text x="130.6" y="771.2" font-family="Liberation Sans, sans-serif" font-size="4.6" font-weight="bold" fill="#000" text-anchor="middle">10<tspan dy="-1.7" font-size="3">1</tspan></text>
<line x1="148.1" y1="764.2" x2="148.1" y2="765.8000000000001" stroke="#555" stroke-width="0.6"/>
<text x="150.0" y="771.2" font-family="Liberation Sans, sans-serif" font-size="4.6" font-weight="bold" fill="#000" text-anchor="middle">10<tspan dy="-1.7" font-size="3">2</tspan></text>
<line x1="167.5" y1="764.2" x2="167.5" y2="765.8000000000001" stroke="#555" stroke-width="0.6"/>
<text x="169.4" y="771.2" font-family="Liberation Sans, sans-serif" font-size="4.6" font-weight="bold" fill="#000" text-anchor="middle">10<tspan dy="-1.7" font-size="3">3</tspan></text>
<line x1="187.0" y1="764.2" x2="187.0" y2="765.8000000000001" stroke="#555" stroke-width="0.6"/>
<text x="188.8" y="771.2" font-family="Liberation Sans, sans-serif" font-size="4.6" font-weight="bold" fill="#000" text-anchor="middle">10<tspan dy="-1.7" font-size="3">4</tspan></text>
<text x="149.8" y="778.2" font-family="Liberation Sans, sans-serif" font-size="6.0" font-weight="bold" fill="#000" text-anchor="middle">FL1-H</text>
<text transform="translate(104.4 723.4) rotate(-90)" font-family="Liberation Sans, sans-serif" font-size="6.1" font-weight="bold" fill="#000" text-anchor="middle">Events</text>
<text transform="translate(104.3 689.1) rotate(-90)" font-family="Liberation Sans, sans-serif" font-size="5" font-weight="bold" fill="#000" text-anchor="middle">64</text>
<text x="105.4" y="764.8" font-family="Liberation Sans, sans-serif" font-size="4.2" font-weight="bold" fill="#000" text-anchor="end">0</text>
<text x="151.5" y="694.5" font-family="Liberation Sans, sans-serif" font-size="11.3" fill="#000" stroke="#000" stroke-width="0.18" letter-spacing="0.35" text-anchor="middle">CD38</text>
<line x1="150" y1="763.4" x2="174" y2="763.4" stroke="#b0b0b0" stroke-width="0.9"/>
<path d="M218.4 761.7 H219.3 V760.4 H220.2 V759.9 H221.1 V759.6 H222.0 V758.3 H222.9 V756.9 H223.8 V753.8 H224.7 V754.4 H225.6 V753.4 H226.5 V751.4 H227.4 V752.1 H228.3 V747.8 H229.2 V751.0 H230.1 V748.8 H231.0 V746.6 H231.9 V748.3 H232.8 V747.4 H233.7 V746.4 H234.6 V749.9 H235.5 V748.5 H236.4 V746.7 H237.3 V747.8 H238.2 V747.6 H239.1 V746.6 H240.0 V745.3 H240.9 V748.3 H241.8 V749.4 H242.7 V748.9 H243.6 V751.0 H244.5 V750.5 H245.4 V753.0 H246.3 V751.0 H247.2 V753.3 H248.1 V756.3 H249.0 V757.0 H249.9 V757.1 H250.8 V758.0 H251.7 V759.8 H252.6 V760.3 H253.5 V761.7 H254.4 V762.0 H255.3 V762.6 H256.2 V763.2 H257.1 V763.6 H258.0 V763.8 H258.9 V764.0" fill="none" stroke="#c0c0c0" stroke-width="0.85" stroke-linejoin="round"/>
<path d="M201.8 764.4 H202.7 V764.4 H203.6 V763.5 H204.5 V754.8 H205.4 V746.8 H206.3 V738.7 H207.2 V730.8 H208.1 V724.0 H209.0 V715.6 H209.9 V709.7 H210.8 V701.7 H211.7 V707.1 H212.6 V715.7 H213.5 V723.5 H214.4 V731.1 H215.3 V738.0 H216.2 V744.9 H217.1 V753.3 H218.0 V761.2 H218.9 V764.4 V764.7 H201.8 Z" fill="#8c8c8c" stroke="#333" stroke-width="0.6" stroke-linejoin="round"/>
<path d="M202.2 764.0 H203.1 V760.4 H204.0 V753.9 H204.9 V748.4 H205.8 V741.9 H206.7 V738.3 H207.6 V728.7 H208.5 V725.8 H209.4 V721.8 H210.3 V711.9 H211.2 V708.8 H212.1 V712.7 H213.0 V720.2 H213.9 V722.3 H214.8 V724.6 H215.7 V731.2 H216.6 V736.5 H217.5 V740.8 H218.4 V746.0 H219.3 V751.3 H220.2 V756.0 H221.1 V761.8 H222.0 V761.8 H222.9 V761.9 H223.8 V762.2 H224.7 V762.0 H225.6 V762.4 H226.5 V762.1 H227.4 V762.3 H228.3 V762.5 H229.2 V763.0 H230.1 V762.9 H231.0 V763.3 H231.9 V763.1 H232.8 V763.6 H233.7 V763.8 H234.6 V763.8 H235.5 V763.9 H236.4 V764.4 H237.3 V764.1 H238.2 V763.9 H239.1 V764.4 H240.0 V764.4 H240.9 V764.1" fill="none" stroke="#151515" stroke-width="0.8" stroke-linejoin="round"/>
<line x1="201.2" y1="690" x2="201.2" y2="764.7" stroke="#6c6c6c" stroke-width="0.8"/>
<line x1="200.79999999999998" y1="764.7" x2="259.2" y2="764.7" stroke="#2a2a2a" stroke-width="1.0"/>
<line x1="259.2" y1="764.7" x2="283.79999999999995" y2="764.7" stroke="#9a9a9a" stroke-width="0.9" stroke-dasharray="1.6 1.2"/>
<line x1="202.8" y1="764.7" x2="202.8" y2="766.3000000000001" stroke="#555" stroke-width="0.6"/>
<text x="204.8" y="771.7" font-family="Liberation Sans, sans-serif" font-size="4.6" font-weight="bold" fill="#000" text-anchor="middle">10<tspan dy="-1.7" font-size="3">0</tspan></text>
<line x1="222.2" y1="764.7" x2="222.2" y2="766.3000000000001" stroke="#555" stroke-width="0.6"/>
<text x="224.2" y="771.7" font-family="Liberation Sans, sans-serif" font-size="4.6" font-weight="bold" fill="#000" text-anchor="middle">10<tspan dy="-1.7" font-size="3">1</tspan></text>
<line x1="241.7" y1="764.7" x2="241.7" y2="766.3000000000001" stroke="#555" stroke-width="0.6"/>
<text x="243.6" y="771.7" font-family="Liberation Sans, sans-serif" font-size="4.6" font-weight="bold" fill="#000" text-anchor="middle">10<tspan dy="-1.7" font-size="3">2</tspan></text>
<line x1="261.1" y1="764.7" x2="261.1" y2="766.3000000000001" stroke="#555" stroke-width="0.6"/>
<text x="263.0" y="771.7" font-family="Liberation Sans, sans-serif" font-size="4.6" font-weight="bold" fill="#000" text-anchor="middle">10<tspan dy="-1.7" font-size="3">3</tspan></text>
<line x1="280.6" y1="764.7" x2="280.6" y2="766.3000000000001" stroke="#555" stroke-width="0.6"/>
<text x="282.4" y="771.7" font-family="Liberation Sans, sans-serif" font-size="4.6" font-weight="bold" fill="#000" text-anchor="middle">10<tspan dy="-1.7" font-size="3">4</tspan></text>
<text x="243.4" y="778.7" font-family="Liberation Sans, sans-serif" font-size="6.0" font-weight="bold" fill="#000" text-anchor="middle">FL1-H</text>
<text transform="translate(197.0 723.4) rotate(-90)" font-family="Liberation Sans, sans-serif" font-size="6.1" font-weight="bold" fill="#000" text-anchor="middle">Events</text>
<text transform="translate(197.9 689.1) rotate(-90)" font-family="Liberation Sans, sans-serif" font-size="5" font-weight="bold" fill="#000" text-anchor="middle">64</text>
<text x="199.0" y="765.3" font-family="Liberation Sans, sans-serif" font-size="4.2" font-weight="bold" fill="#000" text-anchor="end">0</text>
<text x="245.5" y="694.5" font-family="Liberation Sans, sans-serif" font-size="11.3" fill="#000" stroke="#000" stroke-width="0.18" letter-spacing="0.35" text-anchor="middle">CD11b</text>
<text x="0.4" y="19" font-family="Liberation Sans, sans-serif" font-size="25.3" font-weight="bold" fill="#000">A</text>
<text x="315.5" y="18.5" font-family="Liberation Sans, sans-serif" font-size="25.3" font-weight="bold" fill="#000">B</text>
<text transform="translate(-0.3 232.6) scale(0.93 1.08)" font-family="Liberation Sans, sans-serif" font-size="25.3" font-weight="bold" fill="#000">C</text>
<text x="316" y="226.3" font-family="Liberation Sans, sans-serif" font-size="25.3" font-weight="bold" fill="#000">D</text>
<text x="-1.0" y="441.7" font-family="Liberation Sans, sans-serif" font-size="25.3" font-weight="bold" fill="#000">E</text>
<text x="315.6" y="436" font-family="Liberation Sans, sans-serif" font-size="25.3" font-weight="bold" fill="#000">F</text>
<text x="-0.3" y="653" font-family="Liberation Sans, sans-serif" font-size="25.3" font-weight="bold" fill="#000">G</text>
<text x="315.4" y="649.8" font-family="Liberation Sans, sans-serif" font-size="25.3" font-weight="bold" fill="#000">H</text>
<rect x="357.0" y="82.7" width="11.0" height="71.4" fill="#c8c8c8" stroke="#5a5a5a" stroke-width="0.6"/>
<rect x="368.0" y="71.0" width="10.2" height="83.1" fill="#060606"/>
<path d="M362.5 82.7 V70.6 M361.2 70.6 H363.8" stroke="#666" stroke-width="0.7" fill="none"/>
<path d="M373.1 71.0 V53.7 M371.8 53.7 H374.4" stroke="#666" stroke-width="0.7" fill="none"/>
<rect x="395.6" y="108.3" width="10.5" height="45.8" fill="#c8c8c8" stroke="#5a5a5a" stroke-width="0.6"/>
<rect x="406.1" y="102.4" width="10.3" height="51.7" fill="#060606"/>
<path d="M400.9 108.3 V103.0 M399.6 103.0 H402.2" stroke="#666" stroke-width="0.7" fill="none"/>
<path d="M411.2 102.4 V92.0 M409.9 92.0 H412.6" stroke="#666" stroke-width="0.7" fill="none"/>
<rect x="434.0" y="94.8" width="10.5" height="59.3" fill="#c8c8c8" stroke="#5a5a5a" stroke-width="0.6"/>
<rect x="444.5" y="94.8" width="10.1" height="59.3" fill="#060606"/>
<path d="M439.2 94.8 V86.0 M437.9 86.0 H440.6" stroke="#666" stroke-width="0.7" fill="none"/>
<path d="M449.6 94.8 V82.4 M448.2 82.4 H450.9" stroke="#666" stroke-width="0.7" fill="none"/>
<rect x="472.4" y="97.9" width="10.5" height="56.2" fill="#c8c8c8" stroke="#5a5a5a" stroke-width="0.6"/>
<rect x="482.9" y="26.2" width="10.1" height="127.9" fill="#060606"/>
<path d="M477.6 97.9 V89.7 M476.3 89.7 H478.9" stroke="#666" stroke-width="0.7" fill="none"/>
<path d="M487.9 26.2 V14.1 M486.6 14.1 H489.2" stroke="#666" stroke-width="0.7" fill="none"/>
<path d="M347.2 15.5 V156.1 M345.2 154.1 H502" fill="none" stroke="#484848" stroke-width="0.75"/>
<line x1="385.9" y1="154.1" x2="385.9" y2="156.1" stroke="#484848" stroke-width="0.7"/>
<line x1="425.2" y1="154.1" x2="425.2" y2="156.1" stroke="#484848" stroke-width="0.7"/>
<line x1="464.5" y1="154.1" x2="464.5" y2="156.1" stroke="#484848" stroke-width="0.7"/>
<line x1="345.4" y1="154.5" x2="348.4" y2="154.5" stroke="#484848" stroke-width="0.7"/>
<text x="343.3" y="157.5" font-family="Liberation Sans, sans-serif" font-size="6.4" fill="#0a0a0a" stroke="#0a0a0a" stroke-width="0.3" text-anchor="end">0</text>
<line x1="345.4" y1="119.6" x2="348.4" y2="119.6" stroke="#484848" stroke-width="0.7"/>
<text x="343.3" y="122.6" font-family="Liberation Sans, sans-serif" font-size="6.4" fill="#0a0a0a" stroke="#0a0a0a" stroke-width="0.3" text-anchor="end">1</text>
<line x1="345.4" y1="85.2" x2="348.4" y2="85.2" stroke="#484848" stroke-width="0.7"/>
<text x="343.3" y="88.2" font-family="Liberation Sans, sans-serif" font-size="6.4" fill="#0a0a0a" stroke="#0a0a0a" stroke-width="0.3" text-anchor="end">2</text>
<line x1="345.4" y1="50.7" x2="348.4" y2="50.7" stroke="#484848" stroke-width="0.7"/>
<text x="343.3" y="53.7" font-family="Liberation Sans, sans-serif" font-size="6.4" fill="#0a0a0a" stroke="#0a0a0a" stroke-width="0.3" text-anchor="end">3</text>
<line x1="345.4" y1="16.2" x2="348.4" y2="16.2" stroke="#484848" stroke-width="0.7"/>
<text x="343.3" y="19.2" font-family="Liberation Sans, sans-serif" font-size="6.4" fill="#0a0a0a" stroke="#0a0a0a" stroke-width="0.3" text-anchor="end">4</text>
<text x="367.4" y="163.9" font-family="Liberation Sans, sans-serif" font-size="6.2" fill="#0a0a0a" stroke="#0a0a0a" stroke-width="0.28" text-anchor="middle">2</text>
<text x="407.0" y="163.9" font-family="Liberation Sans, sans-serif" font-size="6.2" fill="#0a0a0a" stroke="#0a0a0a" stroke-width="0.28" text-anchor="middle">0.5</text>
<text x="443.3" y="163.9" font-family="Liberation Sans, sans-serif" font-size="6.2" fill="#0a0a0a" stroke="#0a0a0a" stroke-width="0.28" text-anchor="middle">0.25</text>
<text x="484.8" y="163.9" font-family="Liberation Sans, sans-serif" font-size="6.2" fill="#0a0a0a" stroke="#0a0a0a" stroke-width="0.28" text-anchor="middle">0.5</text>
<text transform="translate(329.5 93.4) rotate(-90)" font-family="Liberation Sans, sans-serif" font-size="11.5" fill="#000" stroke="#000" stroke-width="0.15" text-anchor="middle">absorbance</text>
<rect x="391.5" y="17.1" width="2.9" height="3.9" fill="#dcdcdc" stroke="#6a6a6a" stroke-width="0.7"/>
<rect x="391.6" y="26.9" width="2.9" height="3.9" fill="#000"/>
<text x="397.1" y="21.5" font-family="Liberation Sans, sans-serif" font-size="8.5" fill="#000" stroke="#000" stroke-width="0.2">buffer</text>
<text x="397.1" y="31.5" font-family="Liberation Sans, sans-serif" font-size="8.5" fill="#000" stroke="#000" stroke-width="0.2">NGD (100 µM)</text>
<text x="404.3" y="182.7" font-family="Liberation Sans, sans-serif" font-size="11.1" fill="#000" stroke="#000" stroke-width="0.18" text-anchor="middle">PMN (x 10<tspan dy="-3.9" font-size="7">6</tspan><tspan dy="3.9">)</tspan></text>
<text x="490.7" y="182.2" font-family="Liberation Sans, sans-serif" font-size="11.1" fill="#000" stroke="#000" stroke-width="0.18" text-anchor="middle">Raji (x 10<tspan dy="-3.9" font-size="7">6</tspan><tspan dy="3.9">)</tspan></text>
<line x1="366.8" y1="167.5" x2="445.3" y2="167.5" stroke="#555" stroke-width="0.7"/>
<path d="M474.7 12.0 V9.3 H487.4 V12.0" fill="none" stroke="#444" stroke-width="0.7"/>
<text x="481.0" y="9.7" font-family="Liberation Sans, sans-serif" font-size="12" font-weight="bold" stroke="#000" stroke-width="0.3" fill="#000" text-anchor="middle">**</text>
<rect x="354.4" y="316.9" width="10.5" height="47.2" fill="#c8c8c8" stroke="#5a5a5a" stroke-width="0.6"/>
<rect x="364.9" y="318.1" width="11.1" height="46.0" fill="#060606"/>
<path d="M359.6 316.9 V314.7 M358.3 314.7 H360.9" stroke="#666" stroke-width="0.7" fill="none"/>
<path d="M370.4 318.1 V313.7 M369.1 313.7 H371.8" stroke="#666" stroke-width="0.7" fill="none"/>
<rect x="392.2" y="338.3" width="11.5" height="25.8" fill="#c8c8c8" stroke="#5a5a5a" stroke-width="0.6"/>
<rect x="403.7" y="335.5" width="10.9" height="28.6" fill="#060606"/>
<path d="M397.9 338.3 V333.0 M396.6 333.0 H399.2" stroke="#666" stroke-width="0.7" fill="none"/>
<path d="M409.1 335.5 V332.6 M407.8 332.6 H410.4" stroke="#666" stroke-width="0.7" fill="none"/>
<rect x="430.0" y="346.1" width="12.0" height="18.0" fill="#c8c8c8" stroke="#5a5a5a" stroke-width="0.6"/>
<rect x="442.0" y="343.9" width="11.0" height="20.2" fill="#060606"/>
<path d="M436.0 346.1 V343.3 M434.7 343.3 H437.3" stroke="#666" stroke-width="0.7" fill="none"/>
<path d="M447.5 343.9 V341.5 M446.2 341.5 H448.8" stroke="#666" stroke-width="0.7" fill="none"/>
<path d="M346.2 235.8 V366.1 M344.2 364.1 H460.8" fill="none" stroke="#484848" stroke-width="0.75"/>
<line x1="384.5" y1="364.1" x2="384.5" y2="366.1" stroke="#484848" stroke-width="0.7"/>
<line x1="422.9" y1="364.1" x2="422.9" y2="366.1" stroke="#484848" stroke-width="0.7"/>
<line x1="461.3" y1="364.1" x2="461.3" y2="366.1" stroke="#484848" stroke-width="0.7"/>
<line x1="344.4" y1="364.1" x2="347.4" y2="364.1" stroke="#484848" stroke-width="0.7"/>
<text x="342.3" y="367.1" font-family="Liberation Sans, sans-serif" font-size="6.4" fill="#0a0a0a" stroke="#0a0a0a" stroke-width="0.3" text-anchor="end">0</text>
<line x1="344.4" y1="333.0" x2="347.4" y2="333.0" stroke="#484848" stroke-width="0.7"/>
<text x="342.3" y="336.0" font-family="Liberation Sans, sans-serif" font-size="6.4" fill="#0a0a0a" stroke="#0a0a0a" stroke-width="0.3" text-anchor="end">0,5</text>
<line x1="344.4" y1="301.5" x2="347.4" y2="301.5" stroke="#484848" stroke-width="0.7"/>
<text x="342.3" y="304.5" font-family="Liberation Sans, sans-serif" font-size="6.4" fill="#0a0a0a" stroke="#0a0a0a" stroke-width="0.3" text-anchor="end">1</text>
<line x1="344.4" y1="269.2" x2="347.4" y2="269.2" stroke="#484848" stroke-width="0.7"/>
<text x="342.3" y="272.2" font-family="Liberation Sans, sans-serif" font-size="6.4" fill="#0a0a0a" stroke="#0a0a0a" stroke-width="0.3" text-anchor="end">1,5</text>
<line x1="344.4" y1="238.1" x2="347.4" y2="238.1" stroke="#484848" stroke-width="0.7"/>
<text x="342.3" y="241.1" font-family="Liberation Sans, sans-serif" font-size="6.4" fill="#0a0a0a" stroke="#0a0a0a" stroke-width="0.3" text-anchor="end">2</text>
<text x="363.4" y="375.8" font-family="Liberation Sans, sans-serif" font-size="6.2" fill="#0a0a0a" stroke="#0a0a0a" stroke-width="0.28" text-anchor="middle">1</text>
<text x="403.2" y="375.8" font-family="Liberation Sans, sans-serif" font-size="6.2" fill="#0a0a0a" stroke="#0a0a0a" stroke-width="0.28" text-anchor="middle">0.5</text>
<text x="443.0" y="375.8" font-family="Liberation Sans, sans-serif" font-size="6.2" fill="#0a0a0a" stroke="#0a0a0a" stroke-width="0.28" text-anchor="middle">0.25</text>
<text transform="translate(324.3 303.2) rotate(-90)" font-family="Liberation Sans, sans-serif" font-size="11.5" fill="#000" stroke="#000" stroke-width="0.15" text-anchor="middle">absorbance</text>
<rect x="392.1" y="237.1" width="3.1" height="3.9" fill="#dcdcdc" stroke="#6a6a6a" stroke-width="0.7"/>
<rect x="391.9" y="246.9" width="3.5" height="3.8" fill="#000"/>
<text x="397.4" y="241.5" font-family="Liberation Sans, sans-serif" font-size="8.5" fill="#000" stroke="#000" stroke-width="0.2">buffer</text>
<text x="397.4" y="251.5" font-family="Liberation Sans, sans-serif" font-size="8.5" fill="#000" stroke="#000" stroke-width="0.2">NGD (100 µM)</text>
<text x="399.2" y="392.4" font-family="Liberation Sans, sans-serif" font-size="11.2" fill="#000" stroke="#000" stroke-width="0.18" text-anchor="middle">HL-60 (x 10<tspan dy="-3.9" font-size="7">6</tspan><tspan dy="3.9">)</tspan></text>
<rect x="352.9" y="548.8" width="10.5" height="25.5" fill="#c8c8c8" stroke="#5a5a5a" stroke-width="0.6"/>
<rect x="363.4" y="547.5" width="12.6" height="26.8" fill="#060606"/>
<path d="M358.1 548.8 V543.6 M356.8 543.6 H359.4" stroke="#666" stroke-width="0.7" fill="none"/>
<path d="M369.7 547.5 V545.6 M368.4 545.6 H371.0" stroke="#666" stroke-width="0.7" fill="none"/>
<rect x="391.4" y="557.7" width="10.7" height="16.6" fill="#c8c8c8" stroke="#5a5a5a" stroke-width="0.6"/>
<rect x="402.1" y="555.7" width="11.7" height="18.6" fill="#060606"/>
<path d="M396.8 557.7 V554.9 M395.4 554.9 H398.1" stroke="#666" stroke-width="0.7" fill="none"/>
<path d="M408.0 555.7 V551.6 M406.7 551.6 H409.3" stroke="#666" stroke-width="0.7" fill="none"/>
<rect x="430.4" y="564.6" width="10.9" height="9.7" fill="#c8c8c8" stroke="#5a5a5a" stroke-width="0.6"/>
<rect x="441.3" y="560.9" width="10.9" height="13.4" fill="#060606"/>
<path d="M435.9 564.6 V559.7 M434.6 559.7 H437.2" stroke="#666" stroke-width="0.7" fill="none"/>
<path d="M446.8 560.9 V558.9 M445.4 558.9 H448.1" stroke="#666" stroke-width="0.7" fill="none"/>
<path d="M344.5 445.5 V576.3 M342.5 574.3 H459.5" fill="none" stroke="#484848" stroke-width="0.75"/>
<line x1="383.2" y1="574.3" x2="383.2" y2="576.3" stroke="#484848" stroke-width="0.7"/>
<line x1="421.6" y1="574.3" x2="421.6" y2="576.3" stroke="#484848" stroke-width="0.7"/>
<line x1="460.0" y1="574.3" x2="460.0" y2="576.3" stroke="#484848" stroke-width="0.7"/>
<line x1="342.7" y1="575.2" x2="345.7" y2="575.2" stroke="#484848" stroke-width="0.7"/>
<text x="340.6" y="578.2" font-family="Liberation Sans, sans-serif" font-size="6.4" fill="#0a0a0a" stroke="#0a0a0a" stroke-width="0.3" text-anchor="end">0</text>
<line x1="342.7" y1="543.1" x2="345.7" y2="543.1" stroke="#484848" stroke-width="0.7"/>
<text x="340.6" y="546.1" font-family="Liberation Sans, sans-serif" font-size="6.4" fill="#0a0a0a" stroke="#0a0a0a" stroke-width="0.3" text-anchor="end">0,5</text>
<line x1="342.7" y1="510.6" x2="345.7" y2="510.6" stroke="#484848" stroke-width="0.7"/>
<text x="340.6" y="513.6" font-family="Liberation Sans, sans-serif" font-size="6.4" fill="#0a0a0a" stroke="#0a0a0a" stroke-width="0.3" text-anchor="end">1</text>
<line x1="342.7" y1="479.4" x2="345.7" y2="479.4" stroke="#484848" stroke-width="0.7"/>
<text x="340.6" y="482.4" font-family="Liberation Sans, sans-serif" font-size="6.4" fill="#0a0a0a" stroke="#0a0a0a" stroke-width="0.3" text-anchor="end">1,5</text>
<line x1="342.7" y1="446.8" x2="345.7" y2="446.8" stroke="#484848" stroke-width="0.7"/>
<text x="340.6" y="449.8" font-family="Liberation Sans, sans-serif" font-size="6.4" fill="#0a0a0a" stroke="#0a0a0a" stroke-width="0.3" text-anchor="end">2</text>
<text x="364.7" y="585.9" font-family="Liberation Sans, sans-serif" font-size="6.2" fill="#0a0a0a" stroke="#0a0a0a" stroke-width="0.28" text-anchor="middle">1</text>
<text x="403.4" y="585.9" font-family="Liberation Sans, sans-serif" font-size="6.2" fill="#0a0a0a" stroke="#0a0a0a" stroke-width="0.28" text-anchor="middle">0.5</text>
<text x="441.8" y="585.9" font-family="Liberation Sans, sans-serif" font-size="6.2" fill="#0a0a0a" stroke="#0a0a0a" stroke-width="0.28" text-anchor="middle">0.25</text>
<text transform="translate(324.3 513.2) rotate(-90)" font-family="Liberation Sans, sans-serif" font-size="11.5" fill="#000" stroke="#000" stroke-width="0.15" text-anchor="middle">absorbance</text>
<rect x="392.4" y="446.0" width="3.1" height="4.2" fill="#dcdcdc" stroke="#6a6a6a" stroke-width="0.7"/>
<rect x="391.9" y="456.0" width="4.0" height="4.0" fill="#000"/>
<text x="397.8" y="450.4" font-family="Liberation Sans, sans-serif" font-size="8.5" fill="#000" stroke="#000" stroke-width="0.2">buffer</text>
<text x="397.8" y="460.2" font-family="Liberation Sans, sans-serif" font-size="8.5" fill="#000" stroke="#000" stroke-width="0.2">NGD (100  µM)</text>
<text x="398.3" y="603.8" font-family="Liberation Sans, sans-serif" font-size="11.3" fill="#000" stroke="#000" stroke-width="0.18" text-anchor="middle">DMSO HL-60 (x 10<tspan dy="-3.9" font-size="7">6</tspan><tspan dy="3.9">)</tspan></text>
<rect x="353.1" y="759.2" width="10.8" height="27.5" fill="#c8c8c8" stroke="#5a5a5a" stroke-width="0.6"/>
<rect x="363.9" y="689.3" width="11.2" height="97.4" fill="#060606"/>
<path d="M358.5 759.2 V758.0 M357.2 758.0 H359.8" stroke="#666" stroke-width="0.7" fill="none"/>
<path d="M369.5 689.3 V679.9 M368.2 679.9 H370.8" stroke="#666" stroke-width="0.7" fill="none"/>
<rect x="391.6" y="762.2" width="11.1" height="24.5" fill="#c8c8c8" stroke="#5a5a5a" stroke-width="0.6"/>
<rect x="402.7" y="727.9" width="10.8" height="58.8" fill="#060606"/>
<path d="M397.1 762.2 V759.4 M395.8 759.4 H398.4" stroke="#666" stroke-width="0.7" fill="none"/>
<path d="M408.1 727.9 V726.3 M406.8 726.3 H409.4" stroke="#666" stroke-width="0.7" fill="none"/>
<rect x="430.4" y="768.3" width="10.9" height="18.4" fill="#c8c8c8" stroke="#5a5a5a" stroke-width="0.6"/>
<rect x="441.3" y="748.1" width="11.3" height="38.6" fill="#060606"/>
<path d="M435.9 768.3 V765.5 M434.6 765.5 H437.2" stroke="#666" stroke-width="0.7" fill="none"/>
<path d="M447.0 748.1 V743.3 M445.7 743.3 H448.3" stroke="#666" stroke-width="0.7" fill="none"/>
<path d="M344.5 659.4 V788.7 M342.5 786.7 H459.5" fill="none" stroke="#484848" stroke-width="0.75"/>
<line x1="383.2" y1="786.7" x2="383.2" y2="788.7" stroke="#484848" stroke-width="0.7"/>
<line x1="421.6" y1="786.7" x2="421.6" y2="788.7" stroke="#484848" stroke-width="0.7"/>
<line x1="460.0" y1="786.7" x2="460.0" y2="788.7" stroke="#484848" stroke-width="0.7"/>
<line x1="342.7" y1="787.2" x2="345.7" y2="787.2" stroke="#484848" stroke-width="0.7"/>
<text x="340.6" y="790.2" font-family="Liberation Sans, sans-serif" font-size="6.4" fill="#0a0a0a" stroke="#0a0a0a" stroke-width="0.3" text-anchor="end">0</text>
<line x1="342.7" y1="756.7" x2="345.7" y2="756.7" stroke="#484848" stroke-width="0.7"/>
<text x="340.6" y="759.7" font-family="Liberation Sans, sans-serif" font-size="6.4" fill="#0a0a0a" stroke="#0a0a0a" stroke-width="0.3" text-anchor="end">0,5</text>
<line x1="342.7" y1="724.0" x2="345.7" y2="724.0" stroke="#484848" stroke-width="0.7"/>
<text x="340.6" y="727.0" font-family="Liberation Sans, sans-serif" font-size="6.4" fill="#0a0a0a" stroke="#0a0a0a" stroke-width="0.3" text-anchor="end">1</text>
<line x1="342.7" y1="692.3" x2="345.7" y2="692.3" stroke="#484848" stroke-width="0.7"/>
<text x="340.6" y="695.3" font-family="Liberation Sans, sans-serif" font-size="6.4" fill="#0a0a0a" stroke="#0a0a0a" stroke-width="0.3" text-anchor="end">1,5</text>
<line x1="342.7" y1="661.3" x2="345.7" y2="661.3" stroke="#484848" stroke-width="0.7"/>
<text x="340.6" y="664.3" font-family="Liberation Sans, sans-serif" font-size="6.4" fill="#0a0a0a" stroke="#0a0a0a" stroke-width="0.3" text-anchor="end">2</text>
<text x="364.7" y="798.0" font-family="Liberation Sans, sans-serif" font-size="6.2" fill="#0a0a0a" stroke="#0a0a0a" stroke-width="0.28" text-anchor="middle">1</text>
<text x="403.4" y="798.0" font-family="Liberation Sans, sans-serif" font-size="6.2" fill="#0a0a0a" stroke="#0a0a0a" stroke-width="0.28" text-anchor="middle">0.5</text>
<text x="441.8" y="798.0" font-family="Liberation Sans, sans-serif" font-size="6.2" fill="#0a0a0a" stroke="#0a0a0a" stroke-width="0.28" text-anchor="middle">0.25</text>
<text transform="translate(324.3 725.7) rotate(-90)" font-family="Liberation Sans, sans-serif" font-size="11.5" fill="#000" stroke="#000" stroke-width="0.15" text-anchor="middle">absorbance</text>
<rect x="393.6" y="660.3" width="3.1" height="4.2" fill="#dcdcdc" stroke="#6a6a6a" stroke-width="0.7"/>
<rect x="393.1" y="669.9" width="4.0" height="4.5" fill="#000"/>
<text x="399.1" y="664.8" font-family="Liberation Sans, sans-serif" font-size="8.5" fill="#000" stroke="#000" stroke-width="0.2">buffer</text>
<text x="399.1" y="674.9" font-family="Liberation Sans, sans-serif" font-size="8.5" fill="#000" stroke="#000" stroke-width="0.2">NGD (100  µM)</text>
<text x="397.3" y="816.2" font-family="Liberation Sans, sans-serif" font-size="11.5" fill="#000" stroke="#000" stroke-width="0.18" text-anchor="middle">ATRA HL-60 (x 10<tspan dy="-3.9" font-size="7">6</tspan><tspan dy="3.9">)</tspan></text>
<path d="M356.3 676.3 V673.5 H369.7 V676.3" fill="none" stroke="#444" stroke-width="0.7"/>
<text x="363.0" y="674.6" font-family="Liberation Sans, sans-serif" font-size="12" font-weight="bold" stroke="#000" stroke-width="0.3" fill="#000" text-anchor="middle">**</text>
<path d="M393.6 720.7 V717.9 H406.8 V720.7" fill="none" stroke="#444" stroke-width="0.7"/>
<text x="400.2" y="719.4" font-family="Liberation Sans, sans-serif" font-size="12" font-weight="bold" stroke="#000" stroke-width="0.3" fill="#000" text-anchor="middle">*</text>
<path d="M433.5 740.0 V736.6 H446.4 V740.0" fill="none" stroke="#444" stroke-width="0.7"/>
<text x="440.9" y="738.2" font-family="Liberation Sans, sans-serif" font-size="12" font-weight="bold" stroke="#000" stroke-width="0.3" fill="#000" text-anchor="middle">*</text>
</g>
</svg>
</body></html>
